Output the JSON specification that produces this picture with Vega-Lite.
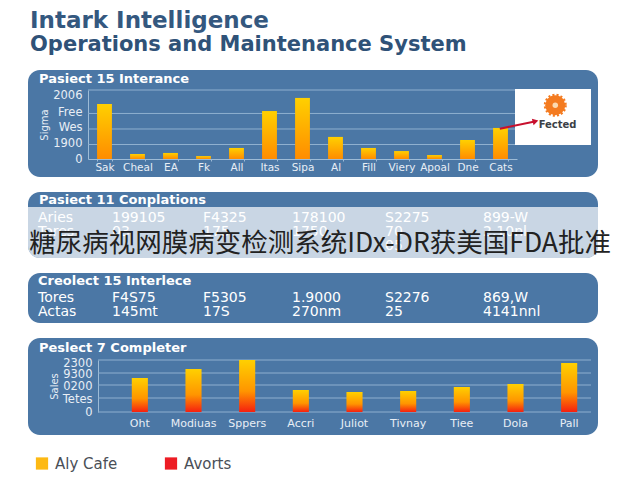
{
  "$schema": "https://vega.github.io/schema/vega-lite/v6.json",
  "background": "#ffffff",
  "padding": {"left": 28, "top": 10, "right": 42, "bottom": 0},
  "title": {
    "text": "Intark Intelligence",
    "subtitle": "Operations and Maintenance System",
    "anchor": "start",
    "font": "DejaVu Sans",
    "fontSize": 23,
    "fontWeight": "bold",
    "color": "#34587f",
    "subtitleFont": "DejaVu Sans",
    "subtitleFontSize": 21,
    "subtitleFontWeight": "bold",
    "subtitleColor": "#2f5278",
    "subtitlePadding": 1,
    "dx": 2,
    "offset": 15
  },
  "config": {
    "font": "DejaVu Sans",
    "view": {"stroke": null},
    "title": {"font": "DejaVu Sans", "fontSize": 13, "fontWeight": "bold", "color": "#ffffff"}
  },
  "bounds": "flush",
  "spacing": 15,
  "vconcat": [
    {
      "width": 570,
      "height": 107,
      "view": {"fill": "#4b77a5", "cornerRadius": 12, "stroke": null},
      "title": {"text": "Pasiect 15 Interance", "anchor": "start", "frame": "group", "offset": 0, "dx": 11, "dy": 16},
      "layer": [
        {
          "layer": [
            {
              "data": {"values": [{"tick": 420}, {"tick": 870}, {"tick": 1320}, {"tick": 2000}]},
              "mark": {"type": "rule", "color": "#8fb0cf", "strokeWidth": 1},
              "encoding": {
                "x": {"datum": 0, "scale": {"domain": [0, 1], "range": [60, 487]}, "axis": null},
                "x2": {"datum": 1},
                "y": {
                  "field": "tick",
                  "type": "quantitative",
                  "scale": {"domain": [0, 2000], "range": [89, 20], "nice": false},
                  "axis": {
                    "title": "Sigma",
                    "titleFontSize": 10,
                    "titleFontWeight": "normal",
                    "titleColor": "#e8eef5",
                    "titlePadding": 3,
                    "offset": -60,
                    "values": [0, 450, 900, 1350, 1830],
                    "labelExpr": "['0','1900','Wes','Free','2006'][indexof([0,450,900,1350,1830],datum.value)]",
                    "labelFontSize": 11.5,
                    "labelColor": "#e8eef5",
                    "labelPadding": 6,
                    "labelOverlap": false,
                    "ticks": false,
                    "grid": false,
                    "domainColor": "#9dbbd6"
                  }
                }
              }
            },
            {
              "data": {
                "values": [
                  {"name": "Sak", "value": 1595},
                  {"name": "Cheal", "value": 145},
                  {"name": "EA", "value": 175},
                  {"name": "Fk", "value": 85},
                  {"name": "All", "value": 320},
                  {"name": "Itas", "value": 1390},
                  {"name": "Sipa", "value": 1770},
                  {"name": "Al", "value": 640},
                  {"name": "Fill", "value": 320},
                  {"name": "Viery", "value": 230},
                  {"name": "Apoal", "value": 115},
                  {"name": "Dne", "value": 550},
                  {"name": "Cats", "value": 900}
                ]
              },
              "mark": {
                "type": "bar",
                "color": {
                  "gradient": "linear",
                  "x1": 0, "y1": 0, "x2": 0, "y2": 1,
                  "stops": [{"offset": 0, "color": "#ffd000"}, {"offset": 1, "color": "#ff8c00"}]
                }
              },
              "encoding": {
                "x": {
                  "field": "name",
                  "type": "nominal",
                  "sort": null,
                  "scale": {"type": "band", "range": [60, 489], "paddingInner": 0.55, "paddingOuter": 0.275},
                  "axis": {
                    "title": null,
                    "offset": -18,
                    "labelAngle": 0,
                    "labelFontSize": 10.5,
                    "labelColor": "#e8eef5",
                    "labelPadding": 1,
                    "domainColor": "#9dbbd6",
                    "tickColor": "#9dbbd6",
                    "tickSize": 2,
                    "tickBand": "extent"
                  }
                },
                "y": {
                  "field": "value",
                  "type": "quantitative",
                  "scale": {"domain": [0, 2000], "range": [89, 20], "nice": false},
                  "axis": {
                    "title": "Sigma",
                    "titleFontSize": 10,
                    "titleFontWeight": "normal",
                    "titleColor": "#e8eef5",
                    "titlePadding": 3,
                    "offset": -60,
                    "values": [0, 450, 900, 1350, 1830],
                    "labelExpr": "['0','1900','Wes','Free','2006'][indexof([0,450,900,1350,1830],datum.value)]",
                    "labelFontSize": 11.5,
                    "labelColor": "#e8eef5",
                    "labelPadding": 6,
                    "labelOverlap": false,
                    "ticks": false,
                    "grid": false,
                    "domainColor": "#9dbbd6"
                  }
                }
              }
            }
          ],
          "resolve": {"scale": {"x": "independent"}}
        },
        {
          "data": {"values": [{"note": "Fected"}]},
          "encoding": {
            "x": {"datum": 0, "scale": {"domain": [0, 1], "range": [487, 563]}, "axis": null},
            "y": {"datum": 0, "scale": {"domain": [0, 1], "range": [19, 75]}, "axis": null}
          },
          "layer": [
            {
              "mark": {"type": "rect", "color": "#ffffff"},
              "encoding": {"x2": {"datum": 1}, "y2": {"datum": 1}}
            },
            {
              "mark": {"type": "point", "shape": "circle", "filled": true, "size": 400, "color": "#f47b20", "stroke": "#f47b20", "strokeWidth": 3, "strokeDash": [2, 2], "opacity": 1},
              "encoding": {"x": {"datum": 0.53}, "y": {"datum": 0.29}}
            },
            {
              "mark": {"type": "point", "shape": "circle", "filled": true, "size": 30, "color": "#fbd9b0", "opacity": 1},
              "encoding": {"x": {"datum": 0.53}, "y": {"datum": 0.29}}
            },
            {
              "mark": {"type": "text", "font": "DejaVu Sans", "fontSize": 10, "fontWeight": "bold", "color": "#3b3f46"},
              "encoding": {"x": {"datum": 0.56}, "y": {"datum": 0.64}, "text": {"field": "note"}}
            },
            {
              "mark": {"type": "rule", "color": "#c8102e", "strokeWidth": 2},
              "encoding": {"x": {"datum": -0.2}, "y": {"datum": 0.71}, "x2": {"datum": 0.26}, "y2": {"datum": 0.58}}
            },
            {
              "mark": {"type": "point", "shape": "triangle-right", "filled": true, "size": 45, "color": "#c8102e", "angle": -15, "opacity": 1},
              "encoding": {"x": {"datum": 0.27}, "y": {"datum": 0.575}}
            }
          ]
        }
      ],
      "resolve": {"scale": {"x": "independent", "y": "independent"}}
    },
    {
      "width": 570,
      "height": 66,
      "view": {"fill": "#4b77a5", "cornerRadius": 12, "stroke": null},
      "title": {"text": "Pasiect 11 Conplations", "anchor": "start", "frame": "group", "offset": 0, "dx": 11, "dy": 15},
      "layer": [
        {
          "data": {
            "values": [
              {"col": 1, "row": 1, "label": "Aries"},
              {"col": 2, "row": 1, "label": "199105"},
              {"col": 3, "row": 1, "label": "F4325"},
              {"col": 4, "row": 1, "label": "178100"},
              {"col": 5, "row": 1, "label": "S2275"},
              {"col": 6, "row": 1, "label": "899-W"},
              {"col": 1, "row": 2, "label": "Tores"},
              {"col": 2, "row": 2, "label": "03"},
              {"col": 3, "row": 2, "label": "175"},
              {"col": 4, "row": 2, "label": "1750"},
              {"col": 5, "row": 2, "label": "70"},
              {"col": 6, "row": 2, "label": "2.10nl"},
              {"col": 5, "row": 3, "label": "05"}
            ]
          },
          "mark": {"type": "text", "align": "left", "font": "DejaVu Sans", "fontSize": 14, "color": "#ffffff"},
          "encoding": {
            "x": {"field": "col", "type": "quantitative", "scale": {"domain": [1, 2, 3, 4, 5, 6], "range": [10, 84, 175, 264, 357, 455]}, "axis": null},
            "y": {"field": "row", "type": "quantitative", "scale": {"domain": [1, 3], "range": [26, 54], "nice": false, "zero": false}, "axis": null},
            "text": {"field": "label"}
          }
        },
        {
          "data": {"values": [{"caption": "糖尿病视网膜病变检测系统IDx-DR获美国FDA批准"}]},
          "encoding": {
            "x": {"datum": 0, "scale": {"domain": [0, 1], "range": [0, 570]}, "axis": null},
            "y": {"datum": 0, "scale": {"domain": [0, 1], "range": [15, 66]}, "axis": null}
          },
          "layer": [
            {
              "mark": {"type": "rect", "color": "#ffffff", "opacity": 0.7, "cornerRadiusBottomLeft": 12, "cornerRadiusBottomRight": 12},
              "encoding": {"x2": {"datum": 1}, "y2": {"datum": 1}}
            },
            {
              "mark": {"type": "text", "align": "left", "font": "Noto Sans CJK SC", "fontSize": 26.5, "color": "#222222"},
              "encoding": {"x": {"datum": 0.002}, "y": {"datum": 0.72}, "text": {"field": "caption"}}
            }
          ]
        }
      ],
      "resolve": {"scale": {"x": "independent", "y": "independent"}}
    },
    {
      "width": 570,
      "height": 50,
      "view": {"fill": "#4b77a5", "cornerRadius": 12, "stroke": null},
      "title": {"text": "Creolect 15 Interlece", "anchor": "start", "frame": "group", "offset": 0, "dx": 10, "dy": 15},
      "data": {
        "values": [
          {"col": 1, "row": 1, "label": "Tores"},
          {"col": 2, "row": 1, "label": "F4S75"},
          {"col": 3, "row": 1, "label": "F5305"},
          {"col": 4, "row": 1, "label": "1.9000"},
          {"col": 5, "row": 1, "label": "S2276"},
          {"col": 6, "row": 1, "label": "869,W"},
          {"col": 1, "row": 2, "label": "Actas"},
          {"col": 2, "row": 2, "label": "145mt"},
          {"col": 3, "row": 2, "label": "17S"},
          {"col": 4, "row": 2, "label": "270nm"},
          {"col": 5, "row": 2, "label": "25"},
          {"col": 6, "row": 2, "label": "4141nnl"}
        ]
      },
      "mark": {"type": "text", "align": "left", "font": "DejaVu Sans", "fontSize": 14, "color": "#ffffff"},
      "encoding": {
        "x": {"field": "col", "type": "quantitative", "scale": {"domain": [1, 2, 3, 4, 5, 6], "range": [10, 84, 175, 264, 357, 455]}, "axis": null},
        "y": {"field": "row", "type": "quantitative", "scale": {"domain": [1, 2], "range": [25, 39], "nice": false, "zero": false}, "axis": null},
        "text": {"field": "label"}
      }
    },
    {
      "width": 570,
      "height": 97,
      "view": {"fill": "#4b77a5", "cornerRadius": 12, "stroke": null},
      "title": {"text": "Peslect 7 Completer", "anchor": "start", "frame": "group", "offset": 0, "dx": 11, "dy": 17},
      "layer": [
        {
          "data": {"values": [{"tick": 0}, {"tick": 700}, {"tick": 1350}, {"tick": 1950}, {"tick": 2600}]},
          "mark": {"type": "rule", "color": "#8fb0cf", "strokeWidth": 1},
          "encoding": {
            "x": {"datum": 0, "scale": {"domain": [0, 1], "range": [70, 563]}, "axis": null},
            "x2": {"datum": 1},
            "y": {
              "field": "tick",
              "type": "quantitative",
              "scale": {"domain": [0, 2600], "range": [74, 22], "nice": false},
              "axis": {
                "title": "Sales",
                "titleFontSize": 10,
                "titleFontWeight": "normal",
                "titleColor": "#e8eef5",
                "titlePadding": 3,
                "offset": -70,
                "values": [0, 650, 1300, 1900, 2450],
                "labelExpr": "['0','Tetes','0200','9300','2300'][indexof([0,650,1300,1900,2450],datum.value)]",
                "labelFontSize": 11.5,
                "labelColor": "#e8eef5",
                "labelPadding": 6,
                "labelOverlap": false,
                "ticks": false,
                "grid": false,
                "domainColor": "#9dbbd6"
              }
            }
          }
        },
        {
          "data": {
            "values": [
              {"name": "Oht", "value": 1700},
              {"name": "Modiuas", "value": 2150},
              {"name": "Sppers", "value": 2600},
              {"name": "Accri", "value": 1100},
              {"name": "Juliot", "value": 1000},
              {"name": "Tivnay", "value": 1050},
              {"name": "Tiee", "value": 1250},
              {"name": "Dola", "value": 1400},
              {"name": "Pall", "value": 2450}
            ]
          },
          "mark": {
            "type": "bar",
            "color": {
              "gradient": "linear",
              "x1": 0, "y1": 0, "x2": 0, "y2": 1,
              "stops": [{"offset": 0, "color": "#ffd000"}, {"offset": 0.6, "color": "#ff9500"}, {"offset": 1, "color": "#f5200f"}]
            }
          },
          "encoding": {
            "x": {
              "field": "name",
              "type": "nominal",
              "sort": null,
              "scale": {"type": "band", "range": [85, 568], "paddingInner": 0.7, "paddingOuter": 0.35},
              "axis": {
                "title": null,
                "offset": -23,
                "labelAngle": 0,
                "labelFontSize": 11,
                "labelColor": "#e8eef5",
                "labelPadding": 5,
                "domain": false,
                "ticks": false
              }
            },
            "y": {
              "field": "value",
              "type": "quantitative",
              "scale": {"domain": [0, 2600], "range": [74, 22], "nice": false},
              "axis": {
                "title": "Sales",
                "titleFontSize": 10,
                "titleFontWeight": "normal",
                "titleColor": "#e8eef5",
                "titlePadding": 3,
                "offset": -70,
                "values": [0, 650, 1300, 1900, 2450],
                "labelExpr": "['0','Tetes','0200','9300','2300'][indexof([0,650,1300,1900,2450],datum.value)]",
                "labelFontSize": 11.5,
                "labelColor": "#e8eef5",
                "labelPadding": 6,
                "labelOverlap": false,
                "ticks": false,
                "grid": false,
                "domainColor": "#9dbbd6"
              }
            }
          }
        }
      ],
      "resolve": {"scale": {"x": "independent"}}
    },
    {
      "width": 570,
      "height": 27,
      "data": {
        "values": [
          {"item": 1, "label": "Aly Cafe"},
          {"item": 2, "label": "Avorts"}
        ]
      },
      "encoding": {
        "x": {"field": "item", "type": "quantitative", "scale": {"domain": [1, 2], "range": [14, 143], "zero": false, "nice": false}, "axis": null}
      },
      "layer": [
        {
          "mark": {"type": "square", "size": 150, "opacity": 1},
          "encoding": {
            "color": {"field": "label", "type": "nominal", "scale": {"domain": ["Aly Cafe", "Avorts"], "range": ["#fdb913", "#ed1c24"]}, "legend": null}
          }
        },
        {
          "mark": {"type": "text", "align": "left", "dx": 13, "font": "DejaVu Sans", "fontSize": 15, "color": "#4a4f57"},
          "encoding": {"text": {"field": "label"}}
        }
      ]
    }
  ]
}
